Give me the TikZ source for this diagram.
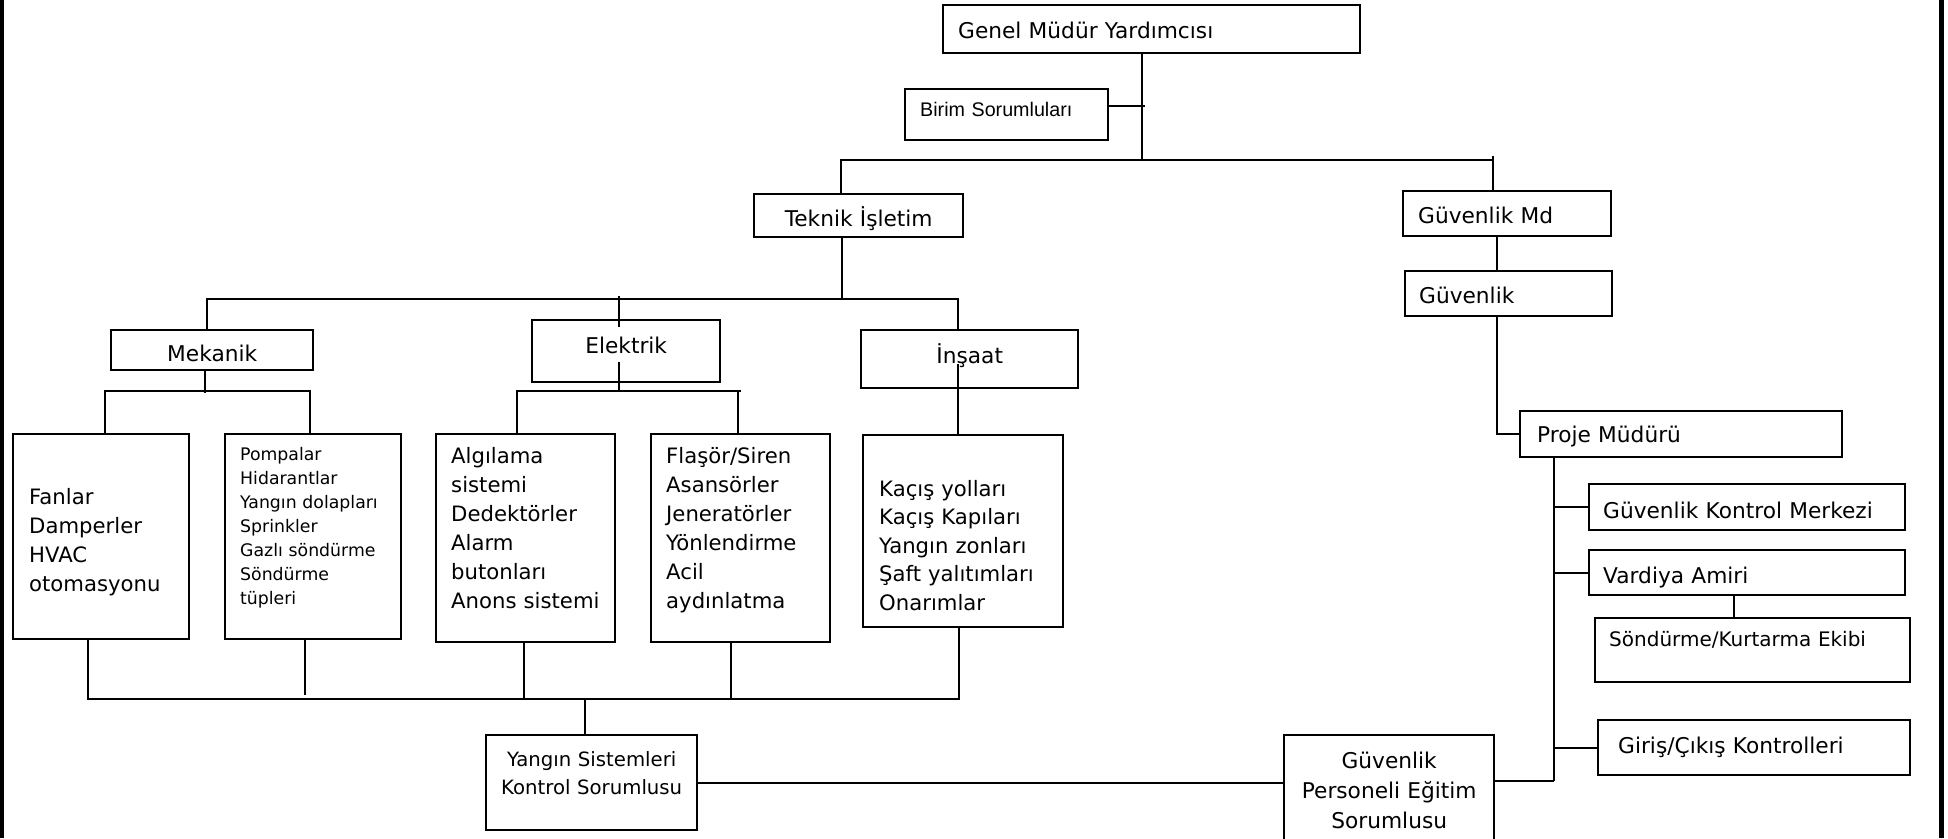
\documentclass[tikz,border=0pt]{standalone}
\usepackage{fontspec}
\setmainfont{DejaVu Sans}
\newfontfamily\arialfont{Liberation Sans}
\newcommand\mainsize{\fontsize{21.7}{29}\selectfont}
\newcommand\listsize{\fontsize{21.2}{29}\selectfont}
\tikzset{
  orgbox/.style={draw, line width=2.4pt, inner sep=0pt, anchor=north west, align=left},
  ctrbox/.style={orgbox, align=center, inner xsep=5pt},
}
\begin{document}
\begin{tikzpicture}[x=1pt, y=-1pt, every path/.style={line width=2pt}, every node/.style={font=\mainsize}]
  \useasboundingbox (0,0) rectangle (1948,838);
  \fill (0,0) rectangle (4,838);
  \fill (1939,0) rectangle (1944,838);

  % top
  \node[orgbox, minimum width=417pt, text width=387pt, inner xsep=15pt, text height=33pt, text depth=15pt] (genel) at (942,4) {Genel Müdür Yardımcısı};
  \node[orgbox, minimum width=203pt, text width=173pt, inner xsep=15pt, text height=27pt, text depth=24pt, font=\arialfont\fontsize{19.7}{24}\selectfont] (birim) at (904,88) {Birim Sorumluları};
  \node[ctrbox, minimum width=209pt, text width=199pt, text height=32pt, text depth=11pt] (teknik) at (753,193) {Teknik İşletim};
  \node[orgbox, minimum width=208pt, text width=178pt, inner xsep=15pt, text height=32pt, text depth=13pt] (guvmd) at (1402,190) {Güvenlik Md};
  \node[orgbox, minimum width=207pt, text width=179pt, inner xsep=14pt, text height=32pt, text depth=13pt] (guv) at (1404,270) {Güvenlik};

  % teknik isletim
  \node[ctrbox, minimum width=202pt, text width=192pt, text height=31pt, text depth=9pt] (mekanik) at (110,329) {Mekanik};
  \node[ctrbox, minimum width=188pt, text width=178pt, text height=33pt, text depth=29pt] (elektrik) at (531,319) {Elektrik};
  \node[ctrbox, minimum width=217pt, text width=207pt, text height=33pt, text depth=25pt] (insaat) at (860,329) {İnşaat};
  \node[orgbox, font=\listsize, minimum width=176pt, text width=144pt, inner xsep=16pt, text height=70pt, text depth=135pt] (fanlar) at (12,433) {Fanlar\\Damperler\\HVAC\\otomasyonu};
  \node[orgbox, font=\fontsize{17.3}{24}\selectfont, minimum width=176pt, text width=146pt, inner xsep=15pt, text height=26pt, text depth=179pt] (pompalar) at (224,433) {Pompalar\\Hidarantlar\\Yangın~dolapları\\Sprinkler\\Gazlı~söndürme\\Söndürme\\tüpleri};
  \node[orgbox, font=\listsize, minimum width=179pt, text width=149pt, inner xsep=15pt, text height=29pt, text depth=179pt] (algilama) at (435,433) {Algılama\\sistemi\\Dedektörler\\Alarm\\butonları\\Anons~sistemi};
  \node[orgbox, font=\listsize, minimum width=179pt, text width=149pt, inner xsep=15pt, text height=29pt, text depth=179pt] (flasor) at (650,433) {Flaşör/Siren\\Asansörler\\Jeneratörler\\Yönlendirme\\Acil\\aydınlatma};
  \node[orgbox, font=\fontsize{21.2}{28.5}\selectfont, minimum width=200pt, text width=168pt, inner xsep=16pt, text height=61pt, text depth=131pt] (kacis) at (862,434) {Kaçış~yolları\\Kaçış~Kapıları\\Yangın~zonları\\Şaft~yalıtımları\\Onarımlar};
  \node[ctrbox, font=\fontsize{19.7}{28}\selectfont, minimum width=211pt, text width=201pt, text height=31pt, text depth=64pt] (yangin) at (485,734) {Yangın Sistemleri\\Kontrol Sorumlusu};

  % guvenlik
  \node[ctrbox, font=\fontsize{21.7}{30}\selectfont, minimum width=210pt, text width=200pt, text height=33pt, text depth=79pt] (egitim) at (1283,734) {Güvenlik\\Personeli Eğitim\\Sorumlusu};
  \node[orgbox, minimum width=322pt, text width=288pt, inner xsep=17pt, text height=31pt, text depth=15pt] (proje) at (1519,410) {Proje Müdürü};
  \node[orgbox, minimum width=316pt, text width=288pt, inner xsep=14pt, text height=34pt, text depth=12pt] (gkm) at (1588,483) {Güvenlik Kontrol Merkezi};
  \node[orgbox, minimum width=316pt, text width=288pt, inner xsep=14pt, text height=33pt, text depth=12pt] (vardiya) at (1588,549) {Vardiya Amiri};
  \node[orgbox, font=\fontsize{20}{24}\selectfont, minimum width=315pt, text width=287pt, inner xsep=14pt, text height=28pt, text depth=36pt] (sondurme) at (1594,617) {Söndürme/Kurtarma Ekibi};
  \node[orgbox, minimum width=312pt, text width=272pt, inner xsep=20pt, text height=33pt, text depth=22pt] (giris) at (1597,719) {Giriş/Çıkış Kontrolleri};

  % connectors, top
  \coordinate (topj) at (1142,160);
  \coordinate (birimj) at (1145,106);
  \coordinate (tl) at (841,160);
  \coordinate (tr) at (1493,160);
  \draw (genel.south -| topj) -- (topj);
  \draw (birim.east |- birimj) -- (birimj);
  \draw (tl |- teknik.north) -- (tl) -- (tr);
  \draw ([yshift=4pt]tr) -- (tr |- guvmd.north);

  % connectors, teknik
  \coordinate (tj) at (842,299);
  \coordinate (ml) at (207,299);
  \coordinate (mr) at (958,299);
  \coordinate (ek) at (619,299);
  \coordinate (ektop) at (619,327);
  \draw (teknik.south -| tj) -- (tj);
  \draw (mekanik.north -| ml) -- (ml) -- (mr) -- (insaat.north -| mr);
  \draw ([yshift=3pt]ek) -- (ektop);

  \coordinate (mj) at (205,393);
  \coordinate (m1) at (105,391);
  \coordinate (m2) at (310,391);
  \draw (mekanik.south -| mj) -- (mj);
  \draw (fanlar.north -| m1) -- (m1) -- (m2) -- (pompalar.north -| m2);

  \coordinate (ej) at (619,362);
  \coordinate (e1) at (517,391);
  \coordinate (e2) at (738,391);
  \coordinate (e3) at (741,391);
  \draw (ej) -- (ej |- e1);
  \draw (algilama.north -| e1) -- (e1) -- (e3);
  \draw (e2) -- (flasor.north -| e2);

  \coordinate (ij) at (958,364);
  \draw (ij) -- (kacis.north -| ij);

  % bottom bus
  \coordinate (b1) at (88,699);
  \coordinate (b2) at (305,695);
  \coordinate (b3) at (524,699);
  \coordinate (b4) at (731,699);
  \coordinate (b5) at (959,699);
  \coordinate (bj) at (585,699);
  \draw (fanlar.south -| b1) -- (b1) -- (b5) -- (kacis.south -| b5);
  \draw (pompalar.south -| b2) -- (b2);
  \draw (algilama.south -| b3) -- (b3);
  \draw (flasor.south -| b4) -- (b4);
  \draw (bj) -- (yangin.north -| bj);
  \draw (yangin.east) -- (yangin.east -| egitim.west);

  % connectors, guvenlik
  \coordinate (gx) at (1497,434);
  \coordinate (px) at (1554,781);
  \coordinate (vx) at (1734,600);
  \draw (guvmd.south -| gx) -- (guv.north -| gx);
  \draw (guv.south -| gx) -- (gx |- proje.west) -- (proje.west);
  \draw (proje.south -| px) -- (px);
  \draw (egitim.east |- px) -- (px);
  \draw (gkm.west -| px) -- (gkm.west);
  \draw (vardiya.west -| px) -- (vardiya.west);
  \draw (giris.west -| px) -- (giris.west);
  \draw (vardiya.south -| vx) -- (sondurme.north -| vx);
\end{tikzpicture}
\end{document}
